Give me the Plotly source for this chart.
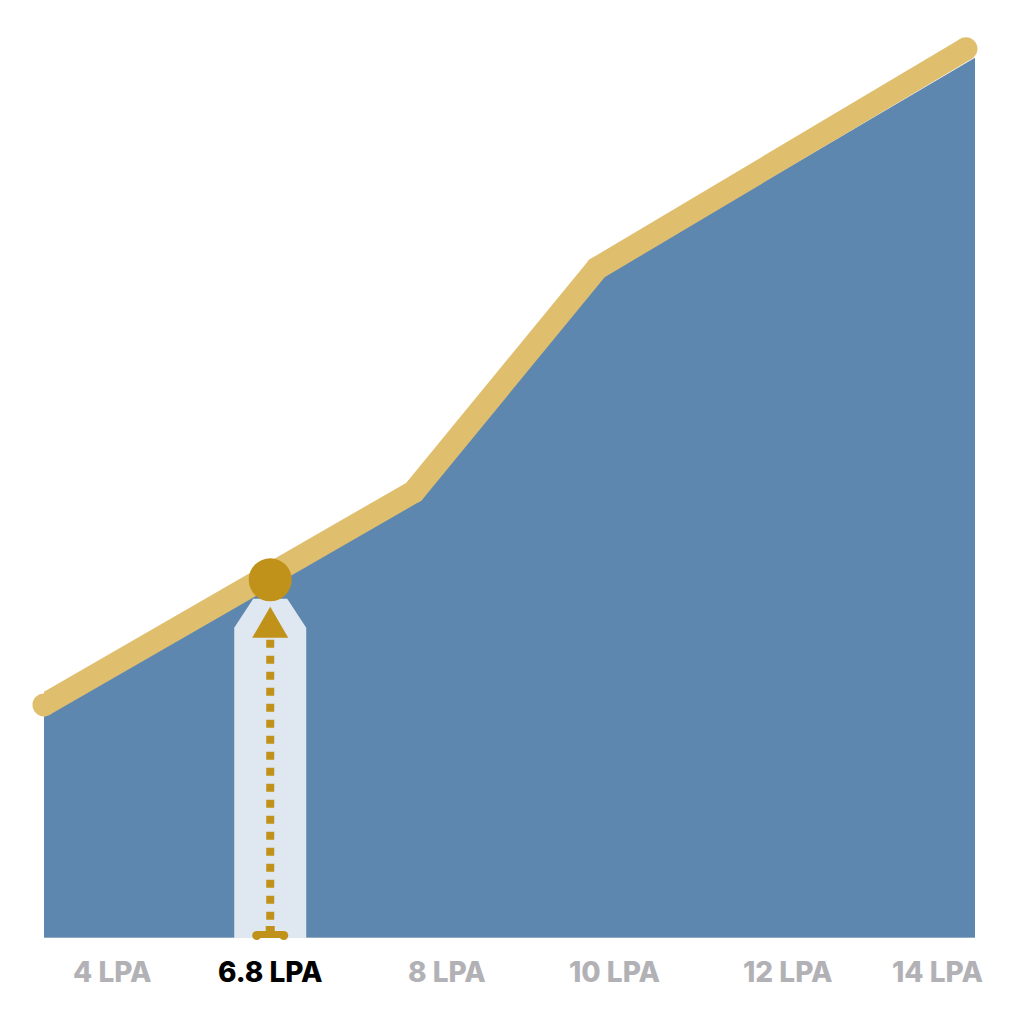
import numpy as np
import plotly.graph_objects as go

# ---- data ----
line_x = [0, 39.74, 59.40, 99.03]          # curve vertices (x, 0-100 scale)
line_y = [25.9, 49.6, 74.4, 98.8]          # salary curve (y, 0-100 scale)
fill_x = [0, 39.74, 59.40, 100]
fill_top = [24.6, 48.3, 73.1, 97.8]        # area top edge
labels = ["4 LPA", "6.8 LPA", "8 LPA", "10 LPA", "12 LPA", "14 LPA"]
label_pos = [7.4, 24.3, 43.3, 61.3, 79.9, 96.0]
highlight_index = 1
highlight_x = 24.3
highlight_y = 39.8

# ---- styles ----
BLUE = "#5E87B0"
GOLD_LINE = "#DFBE6E"
GOLD_DARK = "#C0921A"
BAND = "#DFE7F0"
GRAY_TXT = "#B2B2B6"

W, H = 1024, 1024
ML, MR, MT, MB = 44, 49, 38, 86
PW, PH = W - ML - MR, H - MT - MB
PX_X = 100.0 / PW
PX_Y = 100.0 / PH

fig = go.Figure()

# area fill
fig.add_trace(go.Scatter(x=fill_x, y=fill_top, mode="none", fill="tozeroy",
                         fillcolor=BLUE, hoverinfo="skip", showlegend=False))

# baseline
fig.add_trace(go.Scatter(x=[0, 100], y=[0, 0], mode="lines",
                         line=dict(color="#C5CCD4", width=1),
                         hoverinfo="skip", showlegend=False))

# main curve with rounded caps / joins
LW = 23
fig.add_trace(go.Scatter(x=line_x, y=line_y, mode="lines+markers", cliponaxis=False,
                         line=dict(color=GOLD_LINE, width=LW),
                         marker=dict(color=GOLD_LINE, size=LW, line=dict(width=0)),
                         hoverinfo="skip", showlegend=False))

hx, hy = highlight_x, highlight_y

# highlight band
top_y = hy - 19 * PX_Y
sh_y = hy - 48 * PX_Y
band_x = [hx - 36 * PX_X, hx - 36 * PX_X, hx - 17 * PX_X, hx + 17 * PX_X,
          hx + 36 * PX_X, hx + 36 * PX_X, hx - 36 * PX_X]
band_y = [0, sh_y, top_y, top_y, sh_y, 0, 0]
fig.add_trace(go.Scatter(x=band_x, y=band_y, mode="none", fill="toself",
                         fillcolor=BAND, hoverinfo="skip", showlegend=False))

# dotted stem
fig.add_trace(go.Scatter(x=[hx, hx], y=[hy - 60 * PX_Y, 10 * PX_Y], mode="lines",
                         line=dict(color=GOLD_DARK, width=8, dash="8px,8px"),
                         hoverinfo="skip", showlegend=False))

# arrow head
fig.add_trace(go.Scatter(x=[hx, hx - 18 * PX_X, hx + 18 * PX_X, hx],
                         y=[hy - 27 * PX_Y, hy - 58 * PX_Y, hy - 58 * PX_Y, hy - 27 * PX_Y],
                         mode="none", fill="toself", fillcolor=GOLD_DARK,
                         hoverinfo="skip", showlegend=False))

# bottom bar
fig.add_trace(go.Scatter(x=[hx - 13.5 * PX_X, hx + 13.5 * PX_X], y=[2.5 * PX_Y, 2.5 * PX_Y],
                         mode="lines+markers", cliponaxis=False,
                         line=dict(color=GOLD_DARK, width=9),
                         marker=dict(color=GOLD_DARK, size=9, line=dict(width=0)),
                         hoverinfo="skip", showlegend=False))
fig.add_trace(go.Scatter(x=[hx - 4.5 * PX_X, hx + 4.5 * PX_X, hx + 4.5 * PX_X, hx - 4.5 * PX_X, hx - 4.5 * PX_X],
                         y=[5 * PX_Y, 5 * PX_Y, 12 * PX_Y, 12 * PX_Y, 5 * PX_Y],
                         mode="none", fill="toself", fillcolor=GOLD_DARK,
                         hoverinfo="skip", showlegend=False))

# highlight dot
fig.add_trace(go.Scatter(x=[hx], y=[hy], mode="markers", cliponaxis=False,
                         marker=dict(color=GOLD_DARK, size=43, line=dict(width=0)),
                         hoverinfo="skip", showlegend=False))

# labels
for i, (lab, pos) in enumerate(zip(labels, label_pos)):
    fig.add_annotation(x=pos, y=-34.0 / PH, xref="x", yref="paper",
                       text=lab, showarrow=False, xanchor="center", yanchor="middle",
                       font=dict(family="Inter", size=28, weight=800,
                                 color="#000000" if i == highlight_index else GRAY_TXT))

fig.update_layout(
    width=W, height=H,
    margin=dict(l=ML, r=MR, t=MT, b=MB, pad=0),
    paper_bgcolor="white", plot_bgcolor="white",
    xaxis=dict(range=[0, 100], visible=False, fixedrange=True),
    yaxis=dict(range=[0, 100], visible=False, fixedrange=True),
    showlegend=False,
)

fig.write_html("out.html")
